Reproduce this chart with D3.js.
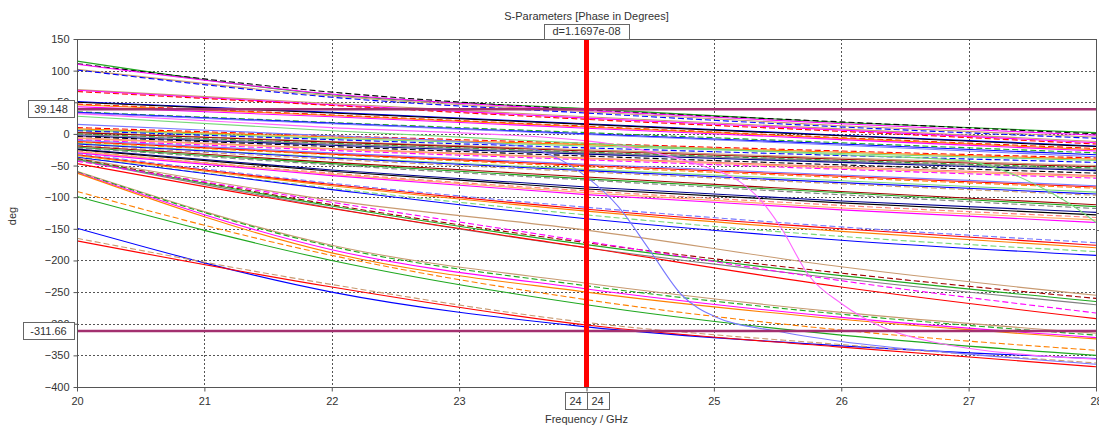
<!DOCTYPE html>
<html lang="en">
  <head>
    <meta charset="utf-8" />
    <title>S-Parameters [Phase in Degrees]</title>
    <script src="https://cdn.jsdelivr.net/npm/d3@7"></script>
    <style>
      body { margin: 0; background: #fff; }
      text { font-family: "Liberation Sans", Arial, sans-serif; font-size: 11px; fill: #333; }
    </style>
  </head>
  <body>
    <div id="chart"></div>
    <script>
      // axis ticks
      var xTicks = [20, 21, 22, 23, 24, 25, 26, 27, 28];
      var yTicks = [150, 100, 50, 0, -50, -100, -150, -200, -250, -300, -350, -400];

      // sample frequencies (GHz) for the regular phase curves
      var freqs = [20, 22, 24, 26, 28];

      // phase values (deg) at freqs
      var phaseDeg = [
        [115, 62, 40, 18, 2], [111, 66, 38, 19, 0], [110, 63, 37, 16, -2],
        [102, 60, 35, 13, -5], [101, 58, 33, 11, -7],
        [70, 48, 27, 8, -12], [69, 46, 25, 6, -14], [67, 45, 23, 4, -16],
        [51, 34, 16, -2, -19], [50, 33, 15, -3, -20], [47, 30, 12, -6, -23],
        [46, 29, 11, -7, -25], [43, 27, 9, -9, -27],
        [35, 18, 2, -14, -30], [34, 17, 0, -16, -33], [33, 16, -1, -18, -36],
        [10, -3, -15, -27, -38], [8, -5, -17, -29, -40], [6, -7, -19, -31, -42],
        [5, -9, -22, -34, -45], [3, -12, -25, -38, -50], [2, -13, -27, -40, -52],
        [0, -15, -29, -42, -54], [-1, -16, -30, -43, -56], [-3, -18, -32, -45, -58],
        [-4, -20, -35, -49, -62], [-6, -23, -38, -52, -66], [-7, -24, -39, -54, -68],
        [-9, -26, -41, -56, -70], [-10, -30, -48, -65, -82], [-12, -32, -50, -67, -84],
        [-13, -33, -52, -69, -86], [-15, -37, -56, -74, -92], [-16, -38, -58, -77, -95],
        [-18, -40, -60, -79, -97], [-19, -45, -68, -91, -112], [-21, -47, -71, -93, -115],
        [-22, -49, -73, -96, -118], [-24, -57, -84, -106, -124], [-25, -59, -87, -109, -128],
        [-27, -62, -90, -113, -132], [-28, -64, -93, -117, -136], [-30, -66, -96, -120, -140],
        [-31, -78, -116, -147, -172], [-33, -80, -119, -150, -176], [-34, -82, -122, -154, -180],
        [-36, -86, -128, -162, -186], [-37, -88, -134, -168, -192],
        [-38, -105, -152, -210, -255], [-39, -112, -172, -220, -260],
        [-40, -114, -175, -224, -265], [-41, -117, -180, -229, -270],
        [-43, -108, -170, -232, -283], [-47, -118, -180, -242, -292],
        [-59, -176, -236, -282, -315], [-60, -178, -240, -285, -318],
        [-61, -183, -245, -290, -322], [-62, -188, -250, -293, -324],
        [-91, -192, -262, -310, -342], [-99, -200, -270, -318, -350],
        [-149, -250, -305, -335, -355], [-165, -238, -298, -333, -362],
        [-169, -242, -302, -337, -368]
      ];

      // three curves that bend away from the rest
      var blueCurveFreq = [20, 22, 23, 23.5, 24, 24.25, 24.5, 24.75, 25, 25.5, 26, 27, 28];
      var blueCurveDeg = [15, -3, -12, -20, -68, -115, -185, -255, -288, -312, -328, -348, -364];
      var pinkCurveFreq = [20, 22, 24, 24.5, 24.9, 25.2, 25.36, 25.52, 25.75, 26, 26.33, 26.7, 28];
      var pinkCurveDeg = [32, 10, -11, -28, -50, -75, -103, -146, -225, -268, -306, -328, -356];
      var greenCurveFreq = [20, 22, 24, 26, 27, 27.3, 27.6, 27.85, 28];
      var greenCurveDeg = [28, 5, -15, -33, -43, -60, -88, -118, -140];

      // markers
      var markerFreq = 24;
      var markerLevels = [39.148, -311.66];
      var markerLevelLabels = ["39.148", "-311.66"];
      var markerDelta = "d=1.1697e-08";

      var palette = {
        red: "#ff0000", green: "#1fa81f", blue: "#0000ff", black: "#000000",
        magenta: "#ff00ff", orange: "#ff8000", tan: "#c89a70", gray: "#808080",
        lred: "#ff7878", lblue: "#7878ff", lgreen: "#78d878", dred: "#a00000",
        dblue: "#000090", peach: "#ffaa60"
      };
      var topColors = ["green", "black", "magenta", "tan", "blue", "tan", "magenta", "red",
        "blue", "black", "red", "orange", "magenta", "green", "blue", "lblue"];
      var cycle = ["red", "blue", "green", "black", "magenta", "orange", "tan", "gray",
        "lred", "lblue", "lgreen", "dred", "dblue", "peach"];
      var lowColors = ["magenta", "red", "tan", "green", "magenta", "orange", "orange", "green",
        "blue", "tan", "red"];

      function colorOf(i) {
        if (i < topColors.length) return palette[topColors[i]];
        var j = i - topColors.length;
        var nCluster = phaseDeg.length - topColors.length - lowColors.length;
        if (j < nCluster) return palette[cycle[(j * 5) % cycle.length]];
        return palette[lowColors[j - nCluster]];
      }

      var width = 1099, height = 430;
      var margin = { top: 39, right: 3, bottom: 43, left: 77 };

      var svg = d3.select("#chart").append("svg")
        .attr("width", width).attr("height", height);

      var x = d3.scaleLinear().domain([20, 28]).range([margin.left, width - margin.right]);
      var y = d3.scaleLinear().domain([-400, 150]).range([height - margin.bottom, margin.top]);

      svg.append("clipPath").attr("id", "plot")
        .append("rect")
        .attr("x", x(20)).attr("y", y(150))
        .attr("width", x(28) - x(20)).attr("height", y(-400) - y(150));

      // grid
      var grid = svg.append("g").attr("stroke", "#555").attr("stroke-dasharray", "2,2");
      grid.selectAll("line.v").data(xTicks.slice(1, -1)).enter().append("line")
        .attr("x1", function (d) { return Math.round(x(d)) + 0.5; })
        .attr("x2", function (d) { return Math.round(x(d)) + 0.5; })
        .attr("y1", y(150)).attr("y2", y(-400));
      grid.selectAll("line.h").data(yTicks.slice(1, -1)).enter().append("line")
        .attr("y1", function (d) { return Math.round(y(d)) + 0.5; })
        .attr("y2", function (d) { return Math.round(y(d)) + 0.5; })
        .attr("x1", x(20)).attr("x2", x(28));

      var line = d3.line()
        .x(function (d) { return x(d[0]); })
        .y(function (d) { return y(d[1]); })
        .curve(d3.curveMonotoneX);

      var plot = svg.append("g").attr("clip-path", "url(#plot)").attr("fill", "none");

      plot.selectAll("path.s").data(phaseDeg).enter().append("path")
        .attr("class", "s")
        .attr("d", function (v) { return line(v.map(function (p, k) { return [freqs[k], p]; })); })
        .attr("stroke", function (v, i) { return colorOf(i); })
        .attr("stroke-width", 1.1)
        .attr("stroke-dasharray", function (v, i) { return i % 3 === 1 ? "6,3" : null; });

      var special = [
        [blueCurveFreq, blueCurveDeg, palette.lblue],
        [pinkCurveFreq, pinkCurveDeg, "#ff66ff"],
        [greenCurveFreq, greenCurveDeg, palette.lgreen]
      ];
      special.forEach(function (c) {
        plot.append("path")
          .attr("d", line(c[0].map(function (f, k) { return [f, c[1][k]]; })))
          .attr("stroke", c[2]).attr("stroke-width", 1.1);
      });

      // horizontal markers
      plot.selectAll("line.m").data(markerLevels).enter().append("line")
        .attr("x1", x(20)).attr("x2", x(28))
        .attr("y1", function (d) { return y(d); }).attr("y2", function (d) { return y(d); })
        .attr("stroke", "#a3306f").attr("stroke-width", 2.5);

      // vertical marker
      svg.append("line")
        .attr("x1", x(markerFreq)).attr("x2", x(markerFreq))
        .attr("y1", y(150)).attr("y2", y(-400))
        .attr("stroke", "#ff0000").attr("stroke-width", 5);

      // frame
      svg.append("rect")
        .attr("x", x(20) + 0.5).attr("y", y(150) + 0.5)
        .attr("width", x(28) - x(20)).attr("height", y(-400) - y(150))
        .attr("fill", "none").attr("stroke", "#555");

      var yAxis = svg.append("g")
        .attr("transform", "translate(" + (x(20) + 0.5) + ",0)")
        .call(d3.axisLeft(y).tickValues(yTicks).tickSize(4).tickPadding(4));
      var xAxis = svg.append("g")
        .attr("transform", "translate(0," + (y(-400) + 0.5) + ")")
        .call(d3.axisBottom(x).tickValues(xTicks).tickSize(4).tickPadding(6));
      [xAxis, yAxis].forEach(function (a) {
        a.select(".domain").remove();
        a.selectAll(".tick line").attr("stroke", "#555");
        a.selectAll("text").attr("font-family", null).attr("font-size", null).attr("fill", "#333");
      });

      // title and labels
      svg.append("text").attr("x", x(markerFreq)).attr("y", 20)
        .attr("text-anchor", "middle").text("S-Parameters [Phase in Degrees]");
      svg.append("text").attr("x", x(markerFreq)).attr("y", 423)
        .attr("text-anchor", "middle").text("Frequency / GHz");
      svg.append("text").attr("transform", "translate(16,216) rotate(-90)")
        .attr("text-anchor", "middle").text("deg");

      function box(cx, top, w, h, label) {
        svg.append("rect").attr("x", Math.round(cx - w / 2) + 0.5).attr("y", top + 0.5)
          .attr("width", w).attr("height", h)
          .attr("fill", "#fff").attr("stroke", "#666");
        svg.append("text").attr("x", cx).attr("y", top + h - 4)
          .attr("text-anchor", "middle").text(label);
      }

      box(x(markerFreq), 24, 85, 15, markerDelta);
      box(x(markerFreq) - 11, 392, 22, 17, String(markerFreq));
      box(x(markerFreq) + 11, 392, 22, 17, String(markerFreq));
      markerLevels.forEach(function (v, i) {
        var w = i === 0 ? 46 : 51;
        box(74 - w / 2, Math.round(y(v)) - 9, w, 17, markerLevelLabels[i]);
      });

      // clipped label box at the right edge
      svg.append("rect").attr("x", x(28) + 0.5).attr("y", 213.5)
        .attr("width", 12).attr("height", 17)
        .attr("fill", "#fff").attr("stroke", "#666");
    </script>
  </body>
</html>
